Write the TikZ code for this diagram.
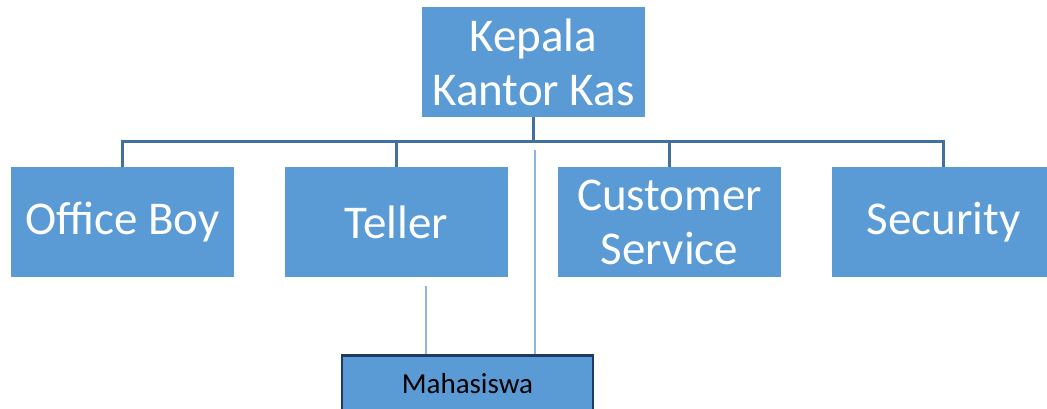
\documentclass[tikz,border=0pt]{standalone}
\usepackage{fontspec}
\setmainfont{Carlito}
\definecolor{boxfill}{RGB}{91,155,213}
\definecolor{conn}{RGB}{65,113,156}
\definecolor{thinln}{RGB}{141,182,228}
\definecolor{navy}{RGB}{31,56,100}
\begin{document}
\begin{tikzpicture}[x=1pt,y=-1pt,
  orgbox/.style={fill=boxfill,draw=none,minimum width=223pt,minimum height=110pt,inner sep=0pt,
    text=white,align=center,font=\fontsize{47}{54}\selectfont},
  mainline/.style={draw=conn,line width=3pt},
  thinline/.style={draw=thinln,line width=1.6pt},
  smallbox/.style={fill=boxfill,draw=navy,line width=2.5pt,minimum width=251pt,minimum height=70pt,
    inner sep=0pt,anchor=north,text=black,font=\fontsize{29}{32}\selectfont}]
\useasboundingbox (0,0) rectangle (1047,409);
\clip (0,0) rectangle (1047,409);
\node[orgbox] (kepala) at (533.5,62) {Kepala\\Kantor Kas};
\node[orgbox] (office) at (122.5,222) {Office Boy};
\node[orgbox] (teller) at (396.5,222) {Teller};
\node[orgbox] (cs) at (669.5,222) {Customer\\Service};
\node[orgbox] (sec) at (943.5,222) {Security};
\coordinate (bus) at (533.5,142);
\draw[mainline] (kepala.south) -- (bus);
\draw[mainline] (office.north) -- (office.north |- bus) -- (sec.north |- bus) -- (sec.north);
\draw[mainline] (teller.north) -- (teller.north |- bus);
\draw[mainline] (cs.north) -- (cs.north |- bus);
\node[smallbox] (maha) at (467.5,354) {};
\node[text=black,font=\fontsize{29}{32}\selectfont,anchor=base] (mahatext) at (467.5,393) {Mahasiswa};
\coordinate (t1) at (535,150);
\coordinate (t2) at (426,286);
\draw[thinline] (t1) -- (t1 |- maha.north);
\draw[thinline] (t2) -- (t2 |- maha.north);
\end{tikzpicture}
\end{document}
